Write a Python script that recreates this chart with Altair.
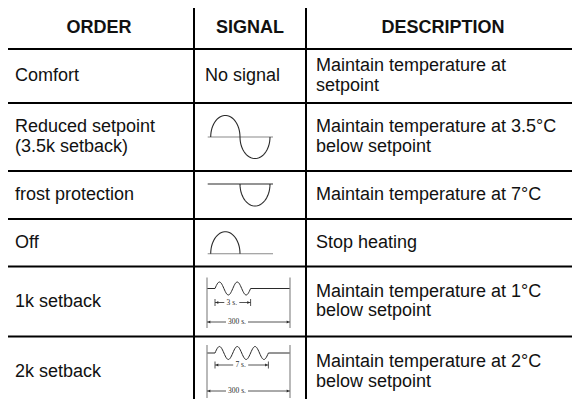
import altair as alt
import numpy as np
import pandas as pd

# ---------------- content ----------------
headers = ["ORDER", "SIGNAL", "DESCRIPTION"]
orders = ["Comfort", "Reduced setpoint\n(3.5k setback)", "frost protection",
          "Off", "1k setback", "2k setback"]
signal_kinds = ["none", "full", "negative", "positive", "pulse", "pulse"]
signal_texts = ["No signal", "", "", "", "", ""]
descriptions = ["Maintain temperature at\nsetpoint",
                "Maintain temperature at 3.5°C\nbelow setpoint",
                "Maintain temperature at 7°C",
                "Stop heating",
                "Maintain temperature at 1°C\nbelow setpoint",
                "Maintain temperature at 2°C\nbelow setpoint"]
pulse_labels = ["", "", "", "", "3 s.", "7 s."]
pulse_halfwaves = [0, 0, 0, 0, 4, 6]
window_labels = ["", "", "", "", "300 s.", "300 s."]

# ---------------- layout (page pixels) ----------------
W, H = 564, 391
PX, PY = 8, 8
col_edges = [4, 194, 306, 580]
row_edges = [6.5, 49, 103, 171, 219, 266.5, 336.5, 407]
header_x = [99, 250, 443]
order_x = 15
desc_x = 316
sig_cx = 242.5
FONT = "Liberation Sans"
FS = 18
LH = 19.5
INK = "#111111"
GRAY = "#8a8a8a"
DARK = "#2a2a2a"
# pulse glyph offsets from row top: wave, small arrow, big arrow, bar top, bar bottom
pulse_off = {4: (22, 36, 55.5, 11, 61.5), 6: (16.5, 28.5, 54.5, 8.5, 61.5)}

centers = [(row_edges[i] + row_edges[i + 1]) / 2 for i in range(len(row_edges) - 1)]


def block_y(text, yc):
    n = text.count("\n") + 1
    return yc - (n - 1) * LH / 2


xs = alt.Scale(domain=[PX, PX + W], nice=False, zero=False)
ys = alt.Scale(domain=[PY, PY + H], nice=False, zero=False, reverse=True)
X = lambda f="x": alt.X(f + ":Q", scale=xs, axis=None)
Y = lambda f="y": alt.Y(f + ":Q", scale=ys, axis=None)

# ---------------- grid ----------------
grid = pd.DataFrame(
    [dict(x=col_edges[0], x2=col_edges[-1], y=r, y2=r) for r in row_edges[1:-1]]
    + [dict(x=c, x2=c, y=row_edges[0], y2=row_edges[-1]) for c in col_edges[1:-1]]
)
rules = alt.Chart(grid).mark_rule(color="#000000", strokeWidth=2, clip=True).encode(
    x=X(), x2="x2:Q", y=Y(), y2="y2:Q")

# ---------------- signal glyphs ----------------
segs = []
seg_count = [0]


def poly(xv, yv, color, width=1.0):
    sid = seg_count[0]
    seg_count[0] += 1
    for k, (a, b) in enumerate(zip(xv, yv)):
        segs.append(dict(seg=sid, o=k, x=float(a), y=float(b), c=color, w=width))


def arc(xa, xb, yb, amp, up, n=30, ellipse=True):
    t = np.linspace(0, np.pi, n)
    s = -1 if up else 1
    if ellipse:
        xm, hw = (xa + xb) / 2, (xb - xa) / 2
        return xm - hw * np.cos(t), yb + s * amp * np.sin(t)
    return xa + (xb - xa) * t / np.pi, yb + s * amp * np.sin(t)


heads = []
small = []
for i, kind in enumerate(signal_kinds):
    top = row_edges[i + 1]
    yc = centers[i + 1]
    if kind == "full":
        poly([207.7, 273], [yc, yc], GRAY, 1.2)
        x1, y1 = arc(210.7, 240, yc, 21.5, True)
        x2, y2 = arc(240, 270, yc, 21.5, False)
        poly(np.concatenate([x1, x2]), np.concatenate([y1, y2]), DARK, 1.1)
    elif kind == "negative":
        yb = yc - 11
        poly([207.7, 273], [yb, yb], DARK, 1.1)
        x2, y2 = arc(240, 270, yb, 22, False)
        poly(x2, y2, DARK, 1.1)
    elif kind == "positive":
        yb = yc + 11
        poly([207.7, 273], [yb, yb], GRAY, 1.2)
        x1, y1 = arc(210.7, 240, yb, 22, True)
        poly(x1, y1, DARK, 1.1)
    elif kind == "pulse":
        n = pulse_halfwaves[i]
        ow, oa, ob, bt, bb = pulse_off[n]
        wl, wr = 207, 290
        ps = 215
        hw = 8.9
        pe = ps + n * hw
        yw = top + ow
        wx, wy = [wl, ps], [yw, yw]
        for k in range(n):
            ax, ay = arc(ps + k * hw, ps + (k + 1) * hw, yw, 6.5, k % 2 == 0, n=14, ellipse=False)
            wx += list(ax[1:])
            wy += list(ay[1:])
        wx += [wr]
        wy += [yw]
        poly(wx, wy, DARK, 1.0)
        poly([wl, wl], [top + bt, top + bb], GRAY, 1.2)
        poly([wr, wr], [top + bt, top + bb], GRAY, 1.2)
        # small arrow
        ya = top + oa
        mid = (ps + pe) / 2 - 1
        poly([ps, ps], [ya - 3.5, ya + 3.5], DARK, 0.8)
        poly([pe, pe], [ya - 3.5, ya + 3.5], DARK, 0.8)
        poly([ps, mid - 7.5], [ya, ya], DARK, 0.8)
        poly([mid + 7.5, pe], [ya, ya], DARK, 0.8)
        heads += [dict(x=ps + 2, y=ya, s="triangle-left"), dict(x=pe - 2, y=ya, s="triangle-right")]
        small.append(dict(x=mid, y=ya, t=pulse_labels[i]))
        # big arrow
        yb2 = top + ob
        lm = 237
        poly([wl, lm - 11], [yb2, yb2], DARK, 0.8)
        poly([lm + 11, wr], [yb2, yb2], DARK, 0.8)
        heads += [dict(x=wl + 2, y=yb2, s="triangle-left"), dict(x=wr - 2, y=yb2, s="triangle-right")]
        small.append(dict(x=lm, y=yb2, t=window_labels[i]))

lines = alt.Chart(pd.DataFrame(segs)).mark_line(clip=True, strokeCap="butt").encode(
    x=X(), y=Y(), detail="seg:N", order="o:Q",
    color=alt.Color("c:N", scale=None), strokeWidth=alt.StrokeWidth("w:Q", scale=None))

arrowheads = alt.Chart(pd.DataFrame(heads)).mark_point(
    filled=True, size=9, color=DARK, opacity=1, clip=True).encode(
    x=X(), y=Y(), shape=alt.Shape("s:N", scale=None))

small_txt = alt.Chart(pd.DataFrame(small)).mark_text(
    font="Liberation Serif", fontSize=7.5, color=DARK, align="center", baseline="middle").encode(
    x=X(), y=Y(), text="t:N")

# ---------------- texts ----------------
hdr = pd.DataFrame(dict(x=header_x, y=[centers[0]] * 3, t=headers))
header_txt = alt.Chart(hdr).mark_text(
    font=FONT, fontSize=FS, fontWeight="bold", color=INK, align="center", baseline="middle").encode(
    x=X(), y=Y(), text="t:N")

body = pd.DataFrame(dict(x=[order_x] * len(orders),
                         y=[block_y(t, c) for t, c in zip(orders, centers[1:])], t=orders))
order_txt = alt.Chart(body).mark_text(
    font=FONT, fontSize=FS, color=INK, align="left", baseline="middle", lineBreak="\n",
    lineHeight=LH).encode(x=X(), y=Y(), text="t:N")

desc = pd.DataFrame(dict(x=[desc_x] * len(descriptions),
                         y=[block_y(t, c) for t, c in zip(descriptions, centers[1:])], t=descriptions))
desc_txt = alt.Chart(desc).mark_text(
    font=FONT, fontSize=FS, color=INK, align="left", baseline="middle", lineBreak="\n",
    lineHeight=LH).encode(x=X(), y=Y(), text="t:N")

sig = pd.DataFrame(dict(x=[sig_cx] * len(signal_texts), y=centers[1:], t=signal_texts))
sig = sig[sig.t != ""]
sig_txt = alt.Chart(sig).mark_text(
    font=FONT, fontSize=FS, color=INK, align="center", baseline="middle").encode(
    x=X(), y=Y(), text="t:N")

chart = alt.layer(rules, lines, arrowheads, small_txt, header_txt, order_txt, desc_txt, sig_txt).properties(
    width=W, height=H, autosize=alt.AutoSizeParams(type="none"), padding=0,
    background="white").configure_view(stroke=None)

chart.save("out.html", embed_options={"renderer": "svg", "actions": False})
